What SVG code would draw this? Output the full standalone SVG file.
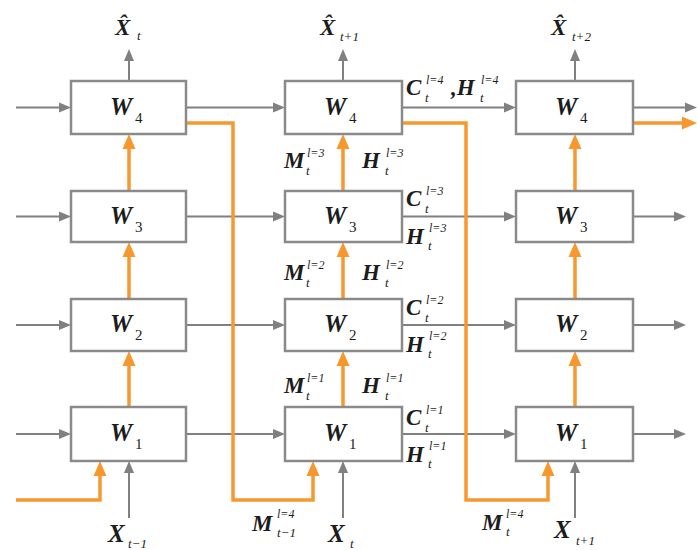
<svg xmlns="http://www.w3.org/2000/svg" width="697" height="550" viewBox="0 0 697 550">
<style>
.box{fill:#fff;stroke:#8a8a8a;stroke-width:2.5}
.g{fill:none;stroke:#808080;stroke-width:2}
.o{fill:none;stroke:#F7982F;stroke-width:3.5}
text{fill:#1c1c1c}
.w{font-family:'Liberation Serif','Times New Roman',serif;font-size:25px;font-weight:bold;font-style:italic}
.ws{font-family:'Liberation Serif','Times New Roman',serif;font-size:15px;font-weight:normal;font-style:normal}
.v{font-family:'Liberation Serif','Times New Roman',serif;font-size:23px;font-weight:bold;font-style:italic}
.x{font-family:'Liberation Serif','Times New Roman',serif;font-size:25px;font-weight:bold;font-style:italic}
.xh{font-family:'Liberation Serif','Times New Roman',serif;font-size:23px;font-weight:bold;font-style:italic}
.sp{font-family:'Liberation Serif','Times New Roman',serif;font-size:12px;font-weight:normal;font-style:italic}
.sb{font-family:'Liberation Serif','Times New Roman',serif;font-size:13px;font-weight:normal;font-style:italic}
</style>
<defs>
<marker id="ag" markerUnits="userSpaceOnUse" markerWidth="12" markerHeight="10" refX="0" refY="5" orient="auto" overflow="visible"><path d="M0,0 L12,5 L0,10 z" fill="#808080"/></marker>
<marker id="ao" markerUnits="userSpaceOnUse" markerWidth="15" markerHeight="13" refX="0" refY="6.5" orient="auto" overflow="visible"><path d="M0,0 L15,6.5 L0,13 z" fill="#F7982F"/></marker>
</defs>
<rect width="697" height="550" fill="#fff"/>

<g id="connectors">
<path class="g" marker-end="url(#ag)" d="M16,107.5 H59"/>
<path class="g" marker-end="url(#ag)" d="M16,216.5 H59"/>
<path class="g" marker-end="url(#ag)" d="M16,325 H59"/>
<path class="g" marker-end="url(#ag)" d="M16,434 H59"/>
<path class="g" marker-end="url(#ag)" d="M186,107.5 H273"/>
<path class="g" marker-end="url(#ag)" d="M186,216.5 H273"/>
<path class="g" marker-end="url(#ag)" d="M186,325 H273"/>
<path class="g" marker-end="url(#ag)" d="M186,434 H273"/>
<path class="g" marker-end="url(#ag)" d="M402,107.5 H504"/>
<path class="g" marker-end="url(#ag)" d="M402,216.5 H504"/>
<path class="g" marker-end="url(#ag)" d="M402,325 H504"/>
<path class="g" marker-end="url(#ag)" d="M402,434 H504"/>
<path class="g" marker-end="url(#ag)" d="M633,107.5 H685"/>
<path class="g" marker-end="url(#ag)" d="M633,216.5 H674"/>
<path class="g" marker-end="url(#ag)" d="M633,325 H674"/>
<path class="g" marker-end="url(#ag)" d="M633,434 H674"/>
<path class="g" marker-end="url(#ag)" d="M129,81 V61"/>
<path class="g" marker-end="url(#ag)" d="M343,81 V61"/>
<path class="g" marker-end="url(#ag)" d="M575,81 V61"/>
<path class="g" marker-end="url(#ag)" d="M129,518 V473"/>
<path class="g" marker-end="url(#ag)" d="M343,518 V473"/>
<path class="g" marker-end="url(#ag)" d="M575,518 V473"/>
<path class="o" marker-end="url(#ao)" d="M129,407 V366"/>
<path class="o" marker-end="url(#ao)" d="M129,299 V257"/>
<path class="o" marker-end="url(#ao)" d="M129,191 V149"/>
<path class="o" marker-end="url(#ao)" d="M343,407 V366"/>
<path class="o" marker-end="url(#ao)" d="M343,299 V257"/>
<path class="o" marker-end="url(#ao)" d="M343,191 V149"/>
<path class="o" marker-end="url(#ao)" d="M575,407 V366"/>
<path class="o" marker-end="url(#ao)" d="M575,299 V257"/>
<path class="o" marker-end="url(#ao)" d="M575,191 V149"/>
<path class="o" marker-end="url(#ao)" d="M16,500 H100 V476"/>
<path class="o" marker-end="url(#ao)" d="M186,123 H233 V500 H313 V476"/>
<path class="o" marker-end="url(#ao)" d="M402,123 H466 V500 H548 V476"/>
<path class="o" marker-end="url(#ao)" d="M633,123 H682"/>
</g>

<g id="c1-w4"><rect class="box" x="71" y="81" width="115" height="53"/><text class="w" x="110" y="115">W<tspan class="ws" x="135" y="123">4</tspan></text></g>
<g id="c1-w3"><rect class="box" x="71" y="191" width="115" height="51"/><text class="w" x="110" y="224">W<tspan class="ws" x="135" y="232">3</tspan></text></g>
<g id="c1-w2"><rect class="box" x="71" y="299" width="115" height="52"/><text class="w" x="110" y="332">W<tspan class="ws" x="135" y="340">2</tspan></text></g>
<g id="c1-w1"><rect class="box" x="71" y="407" width="115" height="54"/><text class="w" x="110" y="441">W<tspan class="ws" x="135" y="449">1</tspan></text></g>

<g id="c2-w4"><rect class="box" x="285" y="81" width="117" height="53"/><text class="w" x="324" y="115">W<tspan class="ws" x="349" y="123">4</tspan></text></g>
<g id="c2-w3"><rect class="box" x="285" y="191" width="117" height="51"/><text class="w" x="324" y="224">W<tspan class="ws" x="349" y="232">3</tspan></text></g>
<g id="c2-w2"><rect class="box" x="285" y="299" width="117" height="52"/><text class="w" x="324" y="332">W<tspan class="ws" x="349" y="340">2</tspan></text></g>
<g id="c2-w1"><rect class="box" x="285" y="407" width="117" height="54"/><text class="w" x="324" y="441">W<tspan class="ws" x="349" y="449">1</tspan></text></g>

<g id="c3-w4"><rect class="box" x="516" y="81" width="117" height="53"/><text class="w" x="555" y="115">W<tspan class="ws" x="580" y="123">4</tspan></text></g>
<g id="c3-w3"><rect class="box" x="516" y="191" width="117" height="51"/><text class="w" x="555" y="224">W<tspan class="ws" x="580" y="232">3</tspan></text></g>
<g id="c3-w2"><rect class="box" x="516" y="299" width="117" height="52"/><text class="w" x="555" y="332">W<tspan class="ws" x="580" y="340">2</tspan></text></g>
<g id="c3-w1"><rect class="box" x="516" y="407" width="117" height="54"/><text class="w" x="555" y="441">W<tspan class="ws" x="580" y="449">1</tspan></text></g>

<g id="labels">
<text class="xh" x="115" y="35">X̂<tspan class="sb" x="137" y="40">t</tspan></text>
<text class="xh" x="320" y="35">X̂<tspan class="sb" x="340" y="41">t+1</tspan></text>
<text class="xh" x="551" y="35">X̂<tspan class="sb" x="572" y="41">t+2</tspan></text>
<text class="x" x="108" y="542">X<tspan class="sb" x="128" y="548">t−1</tspan></text>
<text class="x" x="328" y="542">X<tspan class="sb" x="350" y="548">t</tspan></text>
<text class="x" x="554" y="538">X<tspan class="sb" x="576" y="545">t+1</tspan></text>
<text class="v" x="252" y="531">M<tspan class="sp" x="277" y="518">l=4</tspan><tspan class="sb" x="277" y="537">t−1</tspan></text>
<text class="v" x="482" y="530">M<tspan class="sp" x="506" y="518">l=4</tspan><tspan class="sb" x="506" y="536">t</tspan></text>
<text class="v" x="284" y="168">M<tspan class="sp" x="307" y="157">l=3</tspan><tspan class="sb" x="306" y="175">t</tspan></text>
<text class="v" x="362" y="168">H<tspan class="sp" x="386" y="157">l=3</tspan><tspan class="sb" x="385" y="175">t</tspan></text>
<text class="v" x="284" y="280">M<tspan class="sp" x="307" y="269">l=2</tspan><tspan class="sb" x="306" y="287">t</tspan></text>
<text class="v" x="362" y="280">H<tspan class="sp" x="386" y="269">l=2</tspan><tspan class="sb" x="385" y="287">t</tspan></text>
<text class="v" x="284" y="393">M<tspan class="sp" x="307" y="382">l=1</tspan><tspan class="sb" x="306" y="400">t</tspan></text>
<text class="v" x="362" y="393">H<tspan class="sp" x="386" y="382">l=1</tspan><tspan class="sb" x="385" y="400">t</tspan></text>
<text class="v" x="406" y="95">C<tspan class="sp" x="426" y="84">l=4</tspan><tspan class="sb" x="425" y="102">t</tspan><tspan x="451" y="95">,H</tspan><tspan class="sp" x="481" y="84">l=4</tspan><tspan class="sb" x="480" y="102">t</tspan></text>
<text class="v" x="406" y="206">C<tspan class="sp" x="426" y="195">l=3</tspan><tspan class="sb" x="425" y="213">t</tspan></text>
<text class="v" x="406" y="244">H<tspan class="sp" x="429" y="232">l=3</tspan><tspan class="sb" x="428" y="250">t</tspan></text>
<text class="v" x="406" y="315">C<tspan class="sp" x="426" y="304">l=2</tspan><tspan class="sb" x="425" y="322">t</tspan></text>
<text class="v" x="406" y="352">H<tspan class="sp" x="429" y="340">l=2</tspan><tspan class="sb" x="428" y="358">t</tspan></text>
<text class="v" x="406" y="425">C<tspan class="sp" x="426" y="414">l=1</tspan><tspan class="sb" x="425" y="432">t</tspan></text>
<text class="v" x="406" y="462">H<tspan class="sp" x="429" y="450">l=1</tspan><tspan class="sb" x="428" y="468">t</tspan></text>
</g>
</svg>
